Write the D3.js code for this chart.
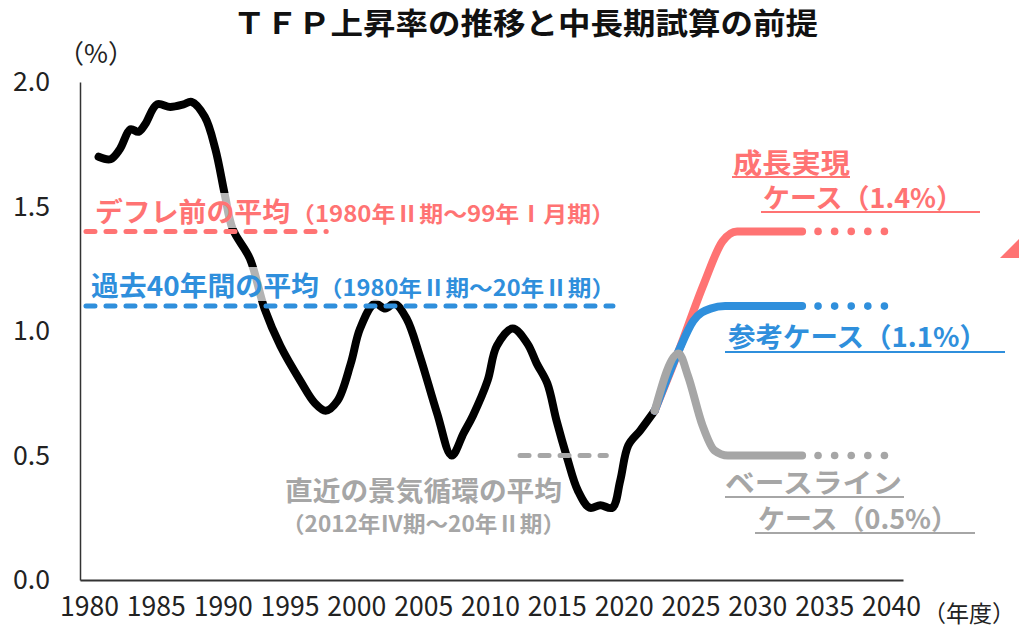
<!DOCTYPE html>
<html>
<head>
<meta charset="utf-8">
<script src="https://cdn.jsdelivr.net/npm/d3@7"></script>
<style>
  body { margin: 0; background: #fff; }
  svg { display: block; font-family: "Noto Sans CJK JP", "Noto Sans", sans-serif; }
</style>
</head>
<body>
<div id="chart"></div>
<script>
// TFP growth (%)
const actualYears = [1981.4, 1982.3, 1983.0, 1983.8, 1984.4, 1984.9, 1985.8, 1986.8, 1987.8, 1988.4,
  1989.4, 1990.2, 1990.9, 1991.5, 1992.8, 1993.9, 1995.1, 1996.6, 1997.7, 1998.5,
  1999.4, 2000.4, 2001.1, 2002.2, 2003.0, 2003.7, 2004.6, 2005.6, 2006.9, 2008.0,
  2008.9, 2009.6, 2010.7, 2011.4, 2012.6, 2013.7, 2014.4, 2015.2, 2015.9, 2016.7,
  2017.5, 2018.4, 2019.2, 2020.1, 2020.7, 2021.3, 2022.2, 2023.3];
const actualValues = [1.70, 1.69, 1.73, 1.81, 1.80, 1.83, 1.91, 1.90, 1.91, 1.92,
  1.86, 1.73, 1.55, 1.41, 1.29, 1.09, 0.94, 0.80, 0.71, 0.68,
  0.72, 0.87, 1.01, 1.11, 1.09, 1.11, 1.05, 0.90, 0.67, 0.50,
  0.59, 0.66, 0.80, 0.94, 1.01, 0.95, 0.87, 0.79, 0.64, 0.49,
  0.36, 0.29, 0.30, 0.29, 0.40, 0.54, 0.60, 0.68];

// scenarios
const growthYears = [2023.3, 2025.1, 2027.0, 2028.4, 2029.5, 2034.4];
const growthValues = [0.68, 0.92, 1.19, 1.36, 1.40, 1.40];
const refYears = [2023.3, 2025.1, 2026.2, 2027.5, 2028.6, 2034.4];
const refValues = [0.68, 0.92, 1.04, 1.09, 1.10, 1.10];
const baseYears = [2023.3, 2025.1, 2025.8, 2026.9, 2027.8, 2028.8, 2034.4];
const baseValues = [0.68, 0.91, 0.82, 0.62, 0.52, 0.50, 0.50];
const dotYears = [2035.6, 2036.85, 2038.1, 2039.35, 2040.6];

// averages
const avgValues = [1.4, 1.1, 0.5];
const avgStart = [1980.3, 1980.3, 2013.0];
const avgEnd = [1998.7, 2020.3, 2019.8];

const xLabels = ["1980", "1985", "1990", "1995", "2000", "2005", "2010", "2015", "2020", "2025", "2030", "2035", "2040"];
const yTicks = [0, 0.5, 1.0, 1.5, 2.0];

const RED = "#ff7373", BLUE = "#2f8fdc", GRAY = "#a6a6a6";
const tickFont = "'Liberation Sans Narrow', 'Noto Sans CJK JP', sans-serif";

const width = 1019, height = 630;
const svg = d3.select("#chart").append("svg")
  .attr("width", width)
  .attr("height", height);

const x = d3.scaleLinear().domain([1980, 2042]).range([80, 903]);
const y = d3.scaleLinear().domain([0, 2]).range([580, 82]);
const xLab = d3.scalePoint().domain(xLabels).range([89, 891]);

// title
svg.append("text")
  .attr("x", 233).attr("y", 34)
  .attr("textLength", 585).attr("lengthAdjust", "spacingAndGlyphs")
  .style("font-size", "30px").style("font-weight", "bold").style("fill", "#111")
  .text("ＴＦＰ上昇率の推移と中長期試算の前提");

svg.append("text")
  .attr("x", 58).attr("y", 63)
  .style("font-size", "26px").style("fill", "#222")
  .text("（%）");

// axes
const yAxis = svg.append("g")
  .attr("transform", "translate(80,0)")
  .call(d3.axisLeft(y).tickValues(yTicks).tickFormat(d3.format(".1f")).tickSize(0).tickPadding(30));
yAxis.select(".domain").attr("stroke", "#333").attr("stroke-width", 1.5);
yAxis.selectAll("text")
  .style("font-size", "27px").style("fill", "#222").style("font-family", tickFont)
  .attr("textLength", 37).attr("lengthAdjust", "spacingAndGlyphs");

const xAxis = svg.append("g")
  .attr("transform", "translate(0,580)")
  .call(d3.axisBottom(x).tickValues([]).tickSizeOuter(0));
xAxis.select(".domain").attr("stroke", "#333").attr("stroke-width", 2);

const xTicks = svg.append("g")
  .attr("transform", "translate(0,580)")
  .call(d3.axisBottom(xLab).tickSize(0).tickPadding(16));
xTicks.select(".domain").remove();
xTicks.selectAll("text")
  .style("font-size", "28px").style("fill", "#222").style("font-family", tickFont)
  .attr("textLength", 59).attr("lengthAdjust", "spacingAndGlyphs");

svg.append("text")
  .attr("x", 923).attr("y", 622)
  .style("font-size", "23px").style("fill", "#222")
  .text("（年度）");

// lines
const line = d3.line()
  .x(d => x(d[0]))
  .y(d => y(d[1]));

const actual = actualYears.map((yr, i) => [yr, actualValues[i]]);
svg.append("path")
  .datum(actual)
  .attr("d", line.curve(d3.curveCatmullRom.alpha(0.5)))
  .attr("fill", "none").attr("stroke", "#000").attr("stroke-width", 8)
  .attr("stroke-linejoin", "round").attr("stroke-linecap", "round");

const scenarios = [
  { years: growthYears, values: growthValues, color: RED },
  { years: refYears, values: refValues, color: BLUE },
  { years: baseYears, values: baseValues, color: GRAY }
];

const scLine = d3.line()
  .x(d => x(d[0]))
  .y(d => y(d[1]))
  .curve(d3.curveMonotoneX);

scenarios.forEach(s => {
  const pts = s.years.map((yr, i) => [yr, s.values[i]]);
  svg.append("path")
    .datum(pts)
    .attr("d", scLine)
    .attr("fill", "none").attr("stroke", s.color).attr("stroke-width", 8)
    .attr("stroke-linejoin", "round").attr("stroke-linecap", "round");

  const last = s.values[s.values.length - 1];
  svg.selectAll(null)
    .data(dotYears)
    .enter().append("circle")
    .attr("cx", d => x(d))
    .attr("cy", y(last))
    .attr("r", 3.8)
    .attr("fill", s.color);
});

// dashed averages
const avgColors = [RED, BLUE, GRAY];
svg.selectAll(".avg")
  .data(avgValues)
  .enter().append("line")
  .attr("class", "avg")
  .attr("x1", (d, i) => x(avgStart[i]) + 2)
  .attr("x2", (d, i) => x(avgEnd[i]) - 2)
  .attr("y1", d => y(d))
  .attr("y2", d => y(d))
  .attr("stroke", (d, i) => avgColors[i])
  .attr("stroke-width", 5)
  .attr("stroke-linecap", "round")
  .attr("stroke-dasharray", "9,11");

// label boxes (semi transparent, they dim the line behind)
svg.append("rect").attr("x", 88).attr("y", 193).attr("width", 527).attr("height", 35)
  .attr("fill", "#fff").attr("opacity", 0.7);
svg.append("rect").attr("x", 85).attr("y", 267).attr("width", 530).attr("height", 34)
  .attr("fill", "#fff").attr("opacity", 0.7);

function label(txt, xPos, yPos, len, size, color) {
  svg.append("text")
    .attr("x", xPos).attr("y", yPos)
    .attr("textLength", len).attr("lengthAdjust", "spacingAndGlyphs")
    .style("font-size", size + "px").style("font-weight", "bold").style("fill", color)
    .text(txt);
}

label("デフレ前の平均", 95, 222, 195, 27, RED);
label("（1980年Ⅱ期～99年Ⅰ月期）", 291, 222, 324, 22, RED);
label("過去40年間の平均", 91, 296, 228, 27, BLUE);
label("（1980年Ⅱ期～20年Ⅱ期）", 319, 296, 296, 22, BLUE);
label("直近の景気循環の平均", 285, 501, 277, 27, GRAY);
label("（2012年Ⅳ期～20年Ⅱ期）", 282, 532, 283, 22, GRAY);

// scenario labels with underlines
const sideLabels = [
  { t: "成長実現", x: 733, y: 173, len: 117, ux1: 732, ux2: 850, uy: 177, c: RED },
  { t: "ケース（1.4%）", x: 763, y: 208, len: 200, ux1: 761, ux2: 980, uy: 212, c: RED },
  { t: "参考ケース（1.1%）", x: 728, y: 347, len: 259, ux1: 725, ux2: 1005, uy: 352, c: BLUE },
  { t: "ベースライン", x: 725, y: 493, len: 177, ux1: 725, ux2: 904, uy: 497, c: GRAY },
  { t: "ケース（0.5%）", x: 758, y: 529, len: 200, ux1: 755, ux2: 975, uy: 533, c: GRAY }
];
sideLabels.forEach(l => {
  label(l.t, l.x, l.y, l.len, 27, l.c);
  svg.append("line")
    .attr("x1", l.ux1).attr("x2", l.ux2)
    .attr("y1", l.uy).attr("y2", l.uy)
    .attr("stroke", l.c).attr("stroke-width", 2);
});

// arrow corner peeking in at the right edge
svg.append("polygon")
  .attr("points", "1000,258 1019,239 1019,258")
  .attr("fill", RED);
</script>
</body>
</html>
